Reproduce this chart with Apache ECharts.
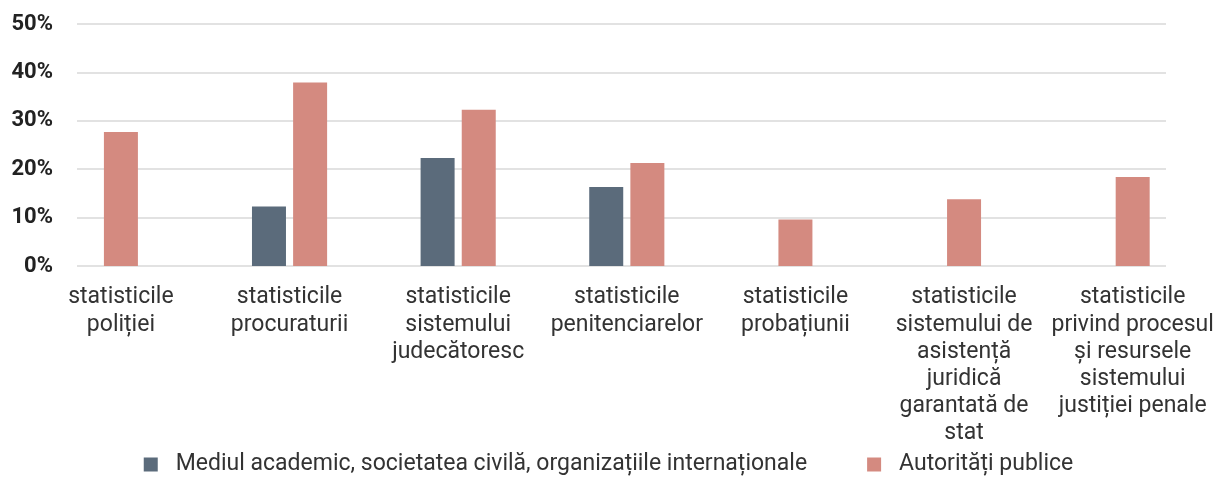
<!DOCTYPE html>
<html>
<head>
<meta charset="utf-8">
<script src="https://cdn.jsdelivr.net/npm/echarts@6/dist/echarts.min.js"></script>
<style>
  html, body { margin: 0; padding: 0; background: #ffffff; }
  #chart { width: 1217px; height: 503px; }
</style>
</head>
<body>
<div id="chart"></div>
<script>
// Categories (line breaks as they appear under the axis)
const categories = [
  'statisticile\npoliției',
  'statisticile\nprocuraturii',
  'statisticile\nsistemului\njudecătoresc',
  'statisticile\npenitenciarelor',
  'statisticile\nprobațiunii',
  'statisticile\nsistemului de\nasistență\njuridică\ngarantată de\nstat',
  'statisticile\nprivind procesul\nși resursele\nsistemului\njustiției penale'
];

const seriesNames = [
  'Mediul academic, societatea civilă, organizațiile internaționale',
  'Autorități publice'
];

// Share of respondents, %
const academiaValues = [null, 12.3, 22.3, 16.3, null, null, null];
const publicValues   = [27.7, 37.9, 32.3, 21.3, 9.6, 13.8, 18.4];

const yTicks = [0, 10, 20, 30, 40, 50];

const COLOR_ACADEMIA = '#5b6b7b';
const COLOR_PUBLIC = '#d48a80';
const FONT = 'Roboto, "Noto Sans", sans-serif';

// Groups with both answers get paired bars; single bars sit centred on their own axis.
const publicPaired = publicValues.map((v, i) => academiaValues[i] == null ? null : v);
const publicSingle = publicValues.map((v, i) => academiaValues[i] == null ? v : null);

const chart = echarts.init(document.getElementById('chart'), null, { renderer: 'canvas' });

const gridTop = 24;
const gridBottom = 237;

chart.setOption({
  animation: false,
  backgroundColor: '#ffffff',
  textStyle: { fontFamily: FONT },
  grid: [
    // frame with value axis and gridlines
    { left: 77, right: 51, top: gridTop, bottom: gridBottom, containLabel: false },
    // band for the bars and the category labels
    { left: 36.6, width: 1195.6, top: gridTop, bottom: gridBottom, containLabel: false }
  ],
  legend: {
    data: seriesNames,
    left: 'center',
    top: 448,
    icon: 'rect',
    itemWidth: 14,
    itemHeight: 14,
    itemGap: 60,
    selectedMode: false,
    textStyle: {
      fontFamily: FONT,
      fontSize: 23,
      color: '#333333',
      padding: [0, 0, 0, 13]
    }
  },
  xAxis: [
    { type: 'category', gridIndex: 0, data: categories, show: false },
    {
      type: 'category',
      gridIndex: 1,
      data: categories,
      axisLine: { show: false },
      axisTick: { show: false },
      axisLabel: {
        interval: 0,
        margin: 18,
        fontFamily: FONT,
        fontSize: 23,
        lineHeight: 27.2,
        color: '#333333',
        align: 'center',
        verticalAlign: 'top'
      }
    },
    { type: 'category', gridIndex: 1, data: categories, show: false }
  ],
  yAxis: [
    {
      type: 'value',
      gridIndex: 0,
      min: yTicks[0],
      max: yTicks[yTicks.length - 1],
      interval: 10,
      axisLine: { show: false },
      axisTick: { show: false },
      splitLine: { lineStyle: { color: '#e2e2e2', width: 2 } },
      axisLabel: {
        formatter: '{value}%',
        margin: 24,
        fontFamily: FONT,
        fontSize: 22,
        fontWeight: 'bold',
        color: '#222222'
      }
    },
    {
      type: 'value',
      gridIndex: 1,
      min: yTicks[0],
      max: yTicks[yTicks.length - 1],
      interval: 10,
      show: false,
      splitLine: { show: false }
    }
  ],
  series: [
    {
      name: seriesNames[0],
      type: 'bar',
      xAxisIndex: 1,
      yAxisIndex: 1,
      data: academiaValues,
      barWidth: 34,
      barGap: '21%',
      itemStyle: { color: COLOR_ACADEMIA }
    },
    {
      name: seriesNames[1],
      type: 'bar',
      xAxisIndex: 1,
      yAxisIndex: 1,
      data: publicPaired,
      barWidth: 34,
      barGap: '21%',
      itemStyle: { color: COLOR_PUBLIC }
    },
    {
      name: seriesNames[1],
      type: 'bar',
      xAxisIndex: 2,
      yAxisIndex: 1,
      data: publicSingle,
      barWidth: 34,
      itemStyle: { color: COLOR_PUBLIC }
    }
  ]
});
</script>
</body>
</html>
